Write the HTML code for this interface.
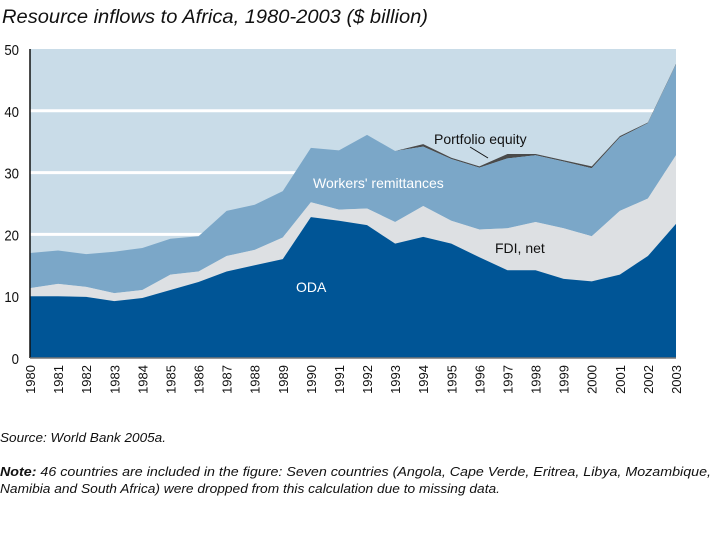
<!DOCTYPE html>
<html><head><meta charset="utf-8"><style>
body{margin:0;background:#fff;width:720px;height:540px;overflow:hidden;font-family:"Liberation Sans",Arial,sans-serif}
svg{position:absolute;left:0;top:0}
</style></head><body>
<svg width="720" height="540">
<text x="2" y="23" font-size="19" font-style="italic" fill="#111" textLength="426" lengthAdjust="spacingAndGlyphs">Resource inflows to Africa, 1980-2003 ($ billion)</text>
<g id="plot"></g>
<text x="0" y="442" font-size="13" font-style="italic" fill="#111" textLength="166" lengthAdjust="spacingAndGlyphs">Source: World Bank 2005a.</text>
<text x="0" y="476" font-size="13" font-style="italic" fill="#111" textLength="711" lengthAdjust="spacingAndGlyphs"><tspan font-weight="bold">Note:</tspan> 46 countries are included in the figure: Seven countries (Angola, Cape Verde, Eritrea, Libya, Mozambique,</text>
<text x="0" y="493" font-size="13" font-style="italic" fill="#111" textLength="500" lengthAdjust="spacingAndGlyphs">Namibia and South Africa) were dropped from this calculation due to missing data.</text>
</svg>
<script>
const years=[1980,1981,1982,1983,1984,1985,1986,1987,1988,1989,1990,1991,1992,1993,1994,1995,1996,1997,1998,1999,2000,2001,2002,2003];
const oda=[10,10,9.9,9.2,9.7,11,12.3,14,15,16,22.8,22.2,21.5,18.5,19.6,18.5,16.3,14.2,14.2,12.8,12.4,13.5,16.5,21.7];
const fdi=[1.3,2,1.6,1.3,1.3,2.5,1.7,2.5,2.5,3.5,2.4,1.8,2.7,3.5,5,3.7,4.5,6.8,7.8,8.2,7.3,10.3,9.3,11.1];
const remit=[5.7,5.4,5.3,6.7,6.8,5.8,5.7,7.3,7.3,7.5,8.8,9.6,11.9,11.5,9.6,10,10,11.3,10.8,10.8,11,11.9,12.2,14.7];
const portfolio=[0,0,0,0,0,0,0,0,0,0,0,0,0,0,0.4,0.2,0.2,0.7,0.2,0.2,0.3,0.2,0.1,0.1];
const yTicks=[0,10,20,30,40,50];
const X0=30,X1=676,Y0=358,Y1=49;
const x=i=>X0+(X1-X0)*i/(years.length-1);
const y=v=>Y0-(Y0-Y1)*v/50;
const NS="http://www.w3.org/2000/svg",g=document.getElementById('plot');
function mk(t,a){const e=document.createElementNS(NS,t);for(const k in a)e.setAttribute(k,a[k]);g.appendChild(e);return e;}
let r=mk('rect',{x:X0,y:Y1,width:X1-X0,height:Y0-Y1,fill:'#c9dce8'});


yTicks.forEach(v=>{
 if(v>0&&v<50){let l=mk('line',{x1:X0,x2:X1,y1:y(v),y2:y(v),stroke:'#fff','stroke-width':3});
 
 }
 let t=mk('text',{x:X0-11,y:y(v)+6,'text-anchor':'end','font-size':15,fill:'#111',transform:`translate(${(X0-11)*0.12},0) scale(0.88,1)`});t.textContent=v;
 
 
});
const series=[oda,fdi,remit,portfolio],cols=['#005596','#dde0e3','#7ba7c8','#4a4a4a'],names=['oda-area','fdi-area','remittances-area','portfolio-area'];
let base=years.map(()=>0),tops=[];
series.forEach(s=>{const top=base.map((b,i)=>b+s[i]);tops.push({lo:base,hi:top});base=top;});
for(let k=series.length-1;k>=0;k--){
 const {lo,hi}=tops[k];
 let d='M'+hi.map((v,i)=>x(i)+','+y(v)).join('L');
 for(let i=lo.length-1;i>=0;i--)d+='L'+x(i)+','+y(lo[i]);
 let p=mk('path',{d:d+'Z',fill:cols[k]});
 
 
}
let ax=mk('line',{x1:X0,x2:X0,y1:Y1,y2:Y0,stroke:'#111','stroke-width':1.5});


let bx=mk('line',{x1:X0,x2:X1,y1:Y0,y2:Y0,stroke:'#777','stroke-width':1.5});


years.forEach((yr,i)=>{let t=mk('text',{'font-size':13,fill:'#111','text-anchor':'end',transform:`translate(${x(i)+5},${Y0+7}) rotate(-90)`});t.textContent=yr;
 
 });
[['ODA',296,292,'#fff','label-oda'],['FDI, net',495,253,'#111','label-fdi'],["Workers' remittances",313,188,'#fff','label-remittances'],['Portfolio equity',434,144,'#111','label-portfolio']].forEach(a=>{
 let t=mk('text',{x:a[1],y:a[2],'font-size':14,fill:a[3]});t.textContent=a[0];
 
 });
let pl=mk('line',{x1:470,y1:147,x2:488,y2:158,stroke:'#111','stroke-width':1});


</script>
</body></html>
